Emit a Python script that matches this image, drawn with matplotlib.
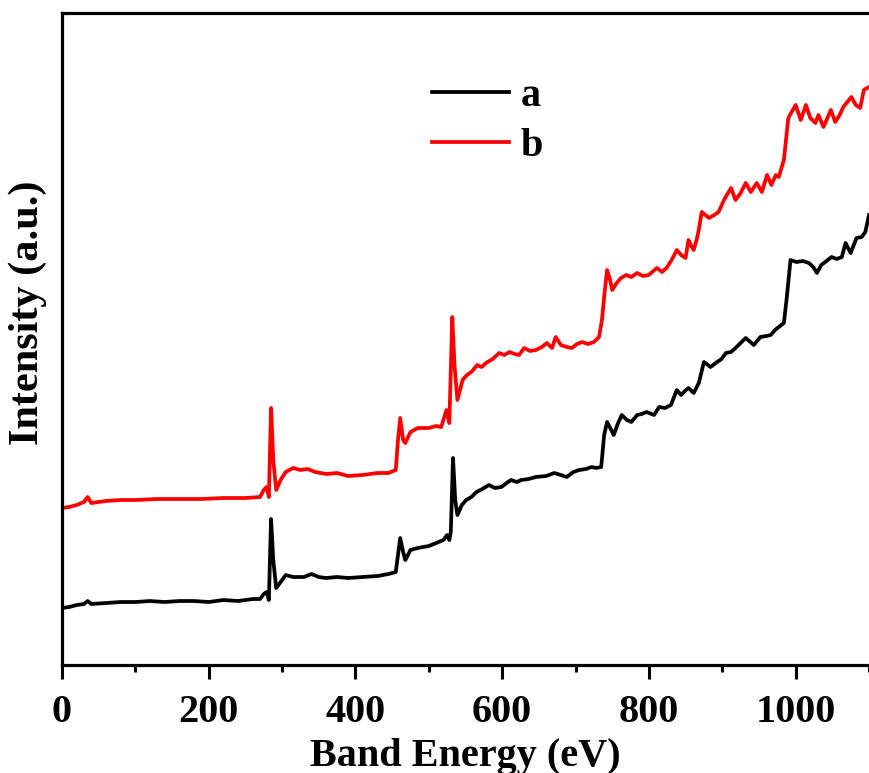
import numpy as np
import matplotlib
matplotlib.use('Agg')
import matplotlib.pyplot as plt
from matplotlib.ticker import MultipleLocator

plt.rcParams['font.family'] = ['Liberation Serif', 'DejaVu Serif']
plt.rcParams['font.weight'] = 'bold'

# survey spectrum a (black)
energy_a = [0, 10, 20, 30, 35, 40, 60, 80, 100, 120, 140, 160, 180, 200, 220, 240,
            260, 270, 275, 279, 282, 285, 288, 292, 298, 305, 315, 330, 340, 350,
            360, 375, 390, 410, 430, 445, 455, 458, 461, 465, 468, 475, 485, 500,
            510, 520, 525, 528, 530, 533, 536, 539, 545, 551, 558, 565, 573, 582,
            590, 599, 606, 612, 620, 626, 636, 646, 660, 671, 680, 688, 697, 705,
            714, 722, 728, 735, 739, 743, 748, 752, 758, 763, 770, 776, 784, 790,
            797, 807, 814, 822, 830, 838, 844, 849, 854, 861, 868, 875, 884, 893,
            899, 905, 912, 918, 925, 932, 943, 952, 960, 966, 972, 977, 984, 988,
            993, 1001, 1010, 1018, 1024, 1029, 1035, 1042, 1049, 1056, 1063, 1068,
            1075, 1083, 1090, 1095, 1100]
intens_a = [57, 58, 60, 61, 64, 61, 62, 63, 63, 64, 63, 64, 64, 63, 65, 64,
            66, 66, 71, 73, 65, 146, 105, 77, 83, 90, 88, 88, 91, 88,
            87, 88, 87, 88, 89, 91, 93, 110, 127, 113, 105, 115, 117, 119,
            122, 125, 130, 125, 133, 207, 165, 150, 160, 165, 168, 173, 176, 180,
            177, 178, 182, 185, 183, 185, 186, 188, 189, 192, 190, 188, 193, 195,
            196, 198, 197, 198, 230, 243, 236, 230, 242, 250, 245, 243, 250, 251,
            253, 250, 258, 257, 260, 275, 270, 274, 277, 272, 282, 303, 298, 303,
            306, 312, 313, 317, 322, 327, 320, 328, 329, 330, 335, 338, 342, 368,
            405, 403, 404, 402, 398, 392, 400, 404, 408, 406, 408, 422,
            412, 427, 428, 433, 450]

# survey spectrum b (red)
energy_b = [0, 10, 20, 30, 35, 40, 60, 80, 100, 130, 160, 190, 220, 250, 270, 275,
            279, 282, 285, 288, 292, 298, 305, 315, 325, 335, 345, 360, 375, 390,
            410, 430, 445, 455, 458, 461, 465, 468, 475, 485, 500, 510, 517, 524,
            528, 532, 535, 539, 546, 552, 558, 566, 572, 578, 587, 596, 603, 610,
            617, 623, 630, 638, 646, 654, 661, 668, 673, 680, 688, 695, 702, 709,
            717, 725, 732, 736, 739, 743, 747, 750, 756, 762, 769, 776, 784, 792,
            800, 806, 811, 818, 824, 831, 838, 844, 850, 854, 857, 861, 865, 868,
            872, 877, 882, 889, 895, 903, 912, 918, 925, 932, 939, 947, 954, 961,
            967, 973, 977, 984, 990, 1000, 1007, 1014, 1020, 1027, 1031, 1038,
            1048, 1054, 1060, 1065, 1076, 1082, 1088, 1093, 1100]
intens_b = [157, 158, 160, 163, 168, 162, 164, 165, 165, 166, 166, 166, 167, 167, 168, 175,
            178, 168, 257, 205, 175, 185, 193, 197, 195, 196, 193, 191, 192, 189,
            190, 192, 192, 195, 225, 247, 225, 222, 233, 237, 237, 239, 238, 255,
            242, 348, 300, 265, 285, 290, 293, 300, 298, 302, 306, 312, 310, 313,
            311, 310, 317, 314, 315, 318, 322, 317, 328, 320, 318, 317, 321, 323,
            321, 323, 328, 345, 368, 395, 385, 375, 382, 387, 390, 388, 392, 389,
            390, 394, 397, 393, 397, 405, 415, 410, 407, 425, 420, 415, 425, 435,
            453, 450, 447, 450, 453, 466, 477, 465, 472, 482, 473, 482, 473, 490,
            480, 490, 488, 505, 547, 560, 545, 560, 547, 542, 550, 538,
            555, 543, 550, 558, 568, 560, 557, 575, 578]

fig = plt.figure(figsize=(8.69, 7.73), dpi=100)
ax = fig.add_axes([0.0713, 0.1397, 0.9287, 0.8435])

ax.plot(energy_a, intens_a, color='black', lw=2.7, label='a')
ax.plot(energy_b, intens_b, color='red', lw=2.7, label='b')

ax.set_xlim(0, 1100)
ax.set_ylim(0, 652)
ax.xaxis.set_major_locator(MultipleLocator(200))
ax.xaxis.set_minor_locator(MultipleLocator(100))
ax.set_yticks([])
ax.spines['right'].set_visible(False)
for s in ['left', 'bottom', 'top']:
    ax.spines[s].set_linewidth(2.3)
ax.tick_params(axis='x', which='major', direction='out', length=10, width=2.2,
               labelsize=29, pad=11)
ax.tick_params(axis='x', which='minor', direction='out', length=5, width=2.2)

ax.set_xlabel('Band Energy (eV)', fontsize=29, fontweight='bold', labelpad=5)
ax.set_ylabel('Intensity (a.u.)', fontsize=30.5, fontweight='bold')
ax.yaxis.set_label_coords(-0.019, 0.54)

ax.legend(loc='upper left', bbox_to_anchor=(0.434, 0.932), frameon=False,
          fontsize=29, handlelength=1.9, handletextpad=0.3, labelspacing=0.33,
          borderpad=0)

fig.savefig('out.png', dpi=100)
